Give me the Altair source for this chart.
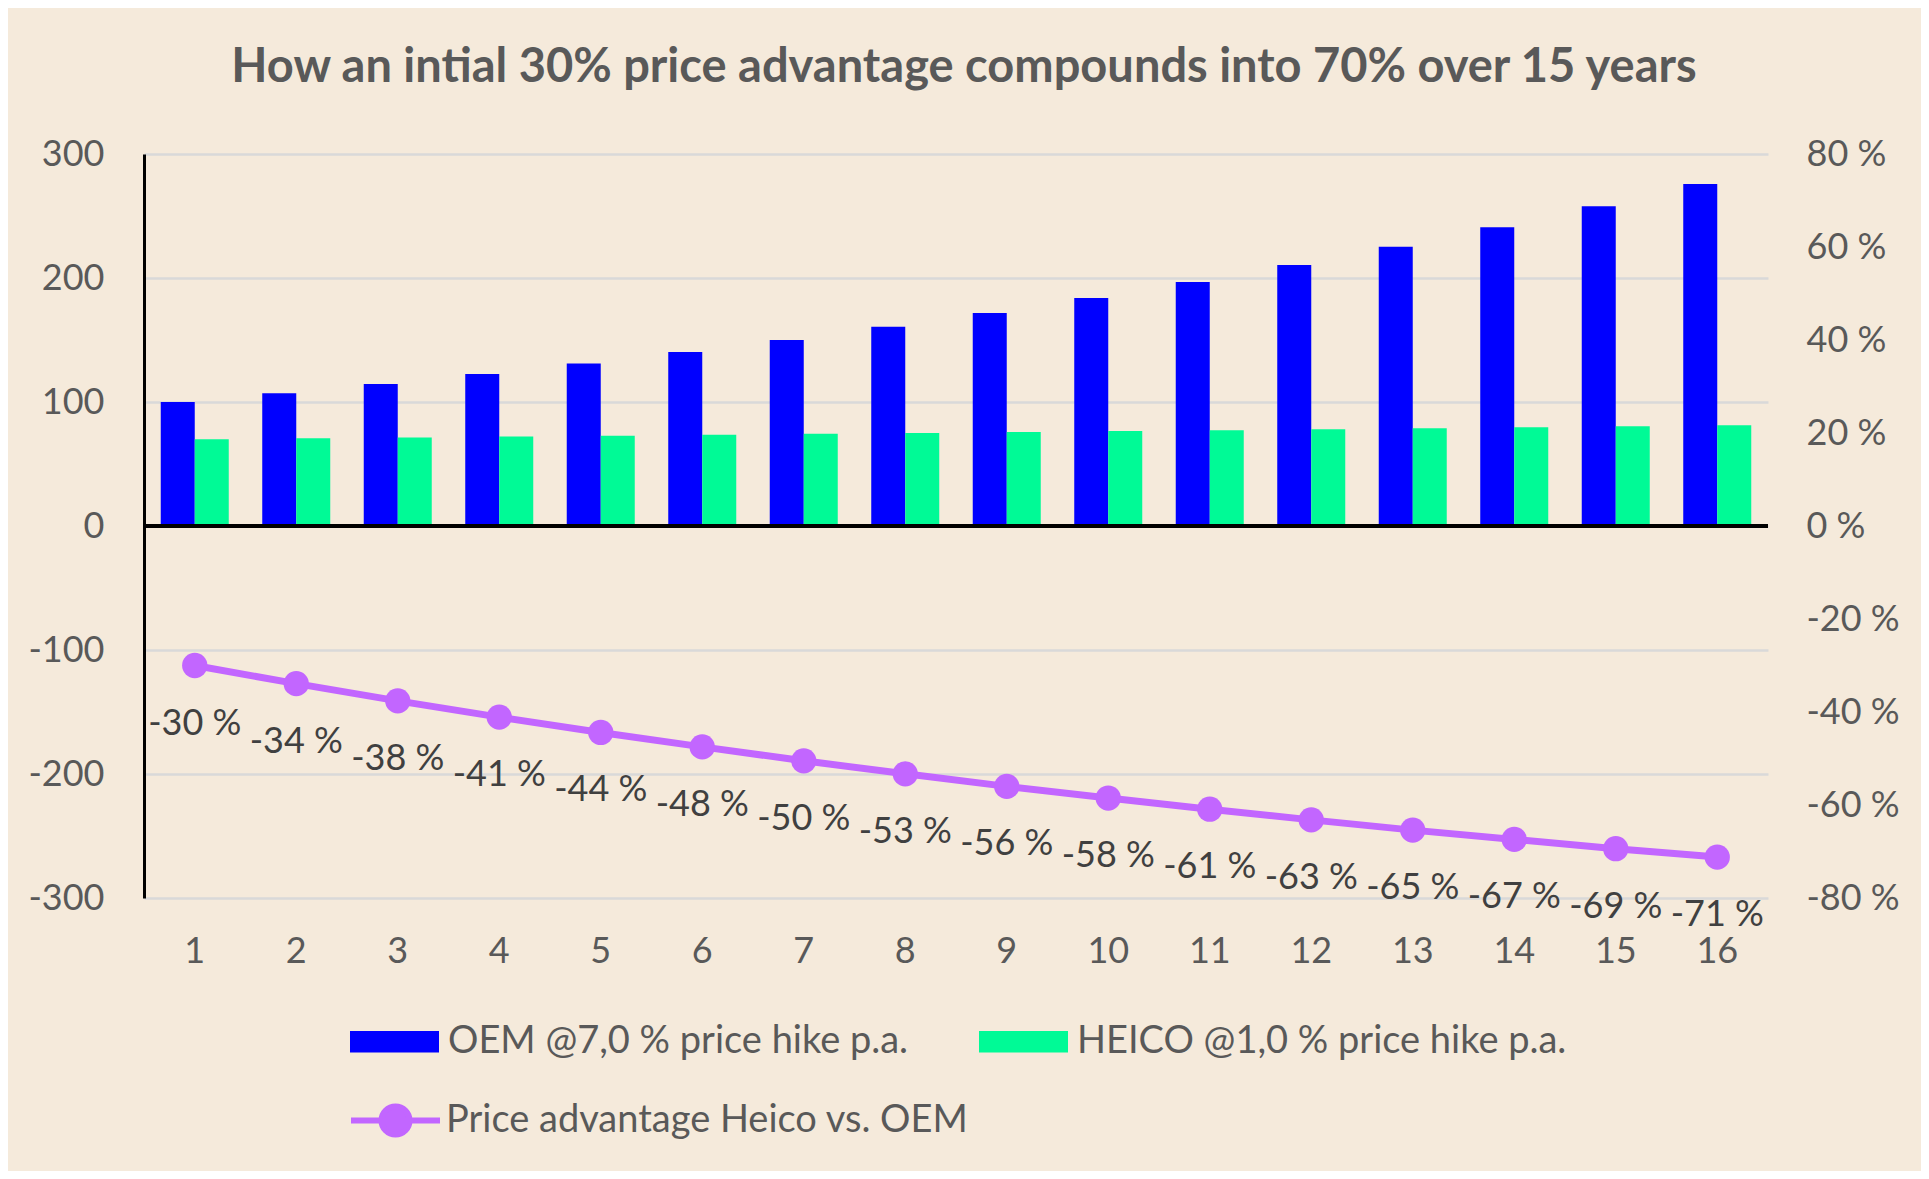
import altair as alt
import pandas as pd

years = list(range(1, 17))
oem = [100, 107, 114.5, 122.5, 131, 140.3, 150, 160.6, 171.8, 183.8, 196.7, 210.5, 225.2, 241, 257.9, 275.9]
heico = [70, 70.7, 71.4, 72.1, 72.8, 73.6, 74.3, 75.0, 75.8, 76.6, 77.3, 78.1, 78.9, 79.7, 80.5, 81.3]
advantage = [-30, -33.9, -37.6, -41.1, -44.4, -47.5, -50.5, -53.3, -56.0, -58.5, -60.9, -63.2, -65.4, -67.4, -69.4, -71.2]
adv_labels = [-30, -34, -38, -41, -44, -48, -50, -53, -56, -58, -61, -63, -65, -67, -69, -71]

OEM_NAME = "OEM @7,0 % price hike p.a."
HEICO_NAME = "HEICO @1,0 % price hike p.a."
ADV_NAME = "Price advantage Heico vs. OEM"

BLUE = "#0000ff"
GREEN = "#00fa96"
PURPLE = "#c266ff"
BG = "#f5eadb"
GREY = "#595959"
FONT = "Lato"

bars_df = pd.DataFrame(
    {"year": years * 2,
     "series": [OEM_NAME] * 16 + [HEICO_NAME] * 16,
     "value": oem + heico}
)
line_df = pd.DataFrame(
    {"year": years, "series": [ADV_NAME] * 16, "adv": advantage,
     "label": [f"{v} %" for v in adv_labels]}
)

x_enc = alt.X(
    "year:O",
    scale=alt.Scale(paddingInner=0.33, paddingOuter=0.165),
    axis=alt.Axis(title=None, labelAngle=0, domain=False, ticks=False, grid=False,
                  labelFontSize=36, labelColor=GREY, labelFont=FONT, labelPadding=36),
)

bars = alt.Chart(bars_df).mark_bar().encode(
    x=x_enc,
    xOffset=alt.XOffset("series:N", sort=[OEM_NAME, HEICO_NAME], scale=alt.Scale(paddingInner=0, paddingOuter=0)),
    y=alt.Y(
        "value:Q",
        scale=alt.Scale(domain=[-300, 300], nice=False),
        axis=alt.Axis(title=None, values=[-300, -200, -100, 0, 100, 200, 300],
                      labelExpr="'' + datum.value", ticks=False,
                      domain=True, domainColor="black", domainWidth=3,
                      grid=True, gridColor="#d9d9d9", gridWidth=2.5,
                      labelFontSize=36, labelColor=GREY, labelFont=FONT, labelPadding=40),
    ),
    fill=alt.Fill(
        "series:N",
        scale=alt.Scale(domain=[OEM_NAME, HEICO_NAME], range=[BLUE, GREEN]),
        legend=alt.Legend(
            orient="none", legendX=206, legendY=843, direction="horizontal", title=None,
            symbolType="M-1,-0.24H1V0.24H-1Z", symbolSize=7921, symbolStrokeWidth=0,
            labelFontSize=38, labelColor=GREY, labelFont=FONT, labelOffset=9,
            columnPadding=70, padding=0, labelLimit=800,
        ),
    ),
)

zero_rule = alt.Chart(bars_df).mark_rule(color="black", strokeWidth=3.5).encode(
    y=alt.datum(0)
)

y_line = alt.Y(
    "adv:Q",
    scale=alt.Scale(domain=[-80, 80], nice=False),
    axis=alt.Axis(title=None, values=[-80, -60, -40, -20, 0, 20, 40, 60, 80],
                  labelExpr="datum.value + ' %'", ticks=False, domain=False, grid=False,
                  labelFontSize=36, labelColor=GREY, labelFont=FONT, labelPadding=38),
)

line = alt.Chart(line_df).mark_line(
    strokeWidth=7,
    point=alt.OverlayMarkDef(filled=True, size=640, fill=PURPLE, strokeWidth=0),
).encode(
    x=x_enc,
    y=y_line,
    stroke=alt.Stroke(
        "series:N",
        scale=alt.Scale(domain=[ADV_NAME], range=[PURPLE]),
        legend=alt.Legend(
            orient="none", legendX=204, legendY=919, title=None,
            symbolType="M-1,0H1M0.315,0A0.315,0.315,0,1,1,-0.315,0A0.315,0.315,0,1,1,0.315,0Z",
            symbolSize=7921, symbolStrokeWidth=6, symbolFillColor=PURPLE,
            labelFontSize=38, labelColor=GREY, labelFont=FONT, labelOffset=3,
            padding=0, labelLimit=800,
        ),
    ),
)

labels = alt.Chart(line_df).mark_text(
    dy=58, fontSize=36, color="#404040", font=FONT
).encode(
    x=x_enc,
    y=y_line,
    text="label:N",
)

chart = alt.layer(
    alt.layer(bars, zero_rule),
    alt.layer(line, labels),
).resolve_scale(y="independent", fill="independent", stroke="independent").properties(
    width=1624,
    height=744,
    autosize=alt.AutoSizeParams(type="none"),
    padding={"left": 136, "top": 146, "right": 153, "bottom": 273},
    background=BG,
    title=alt.TitleParams(
        "How an intial 30% price advantage compounds into 70% over 15 years",
        font=FONT, fontSize=47, fontWeight="bold", color=GREY, anchor="middle",
        offset=44, dx=8,
    ),
).configure_view(stroke=None)

chart.save("out.html", embed_options={"renderer": "svg", "actions": False})
